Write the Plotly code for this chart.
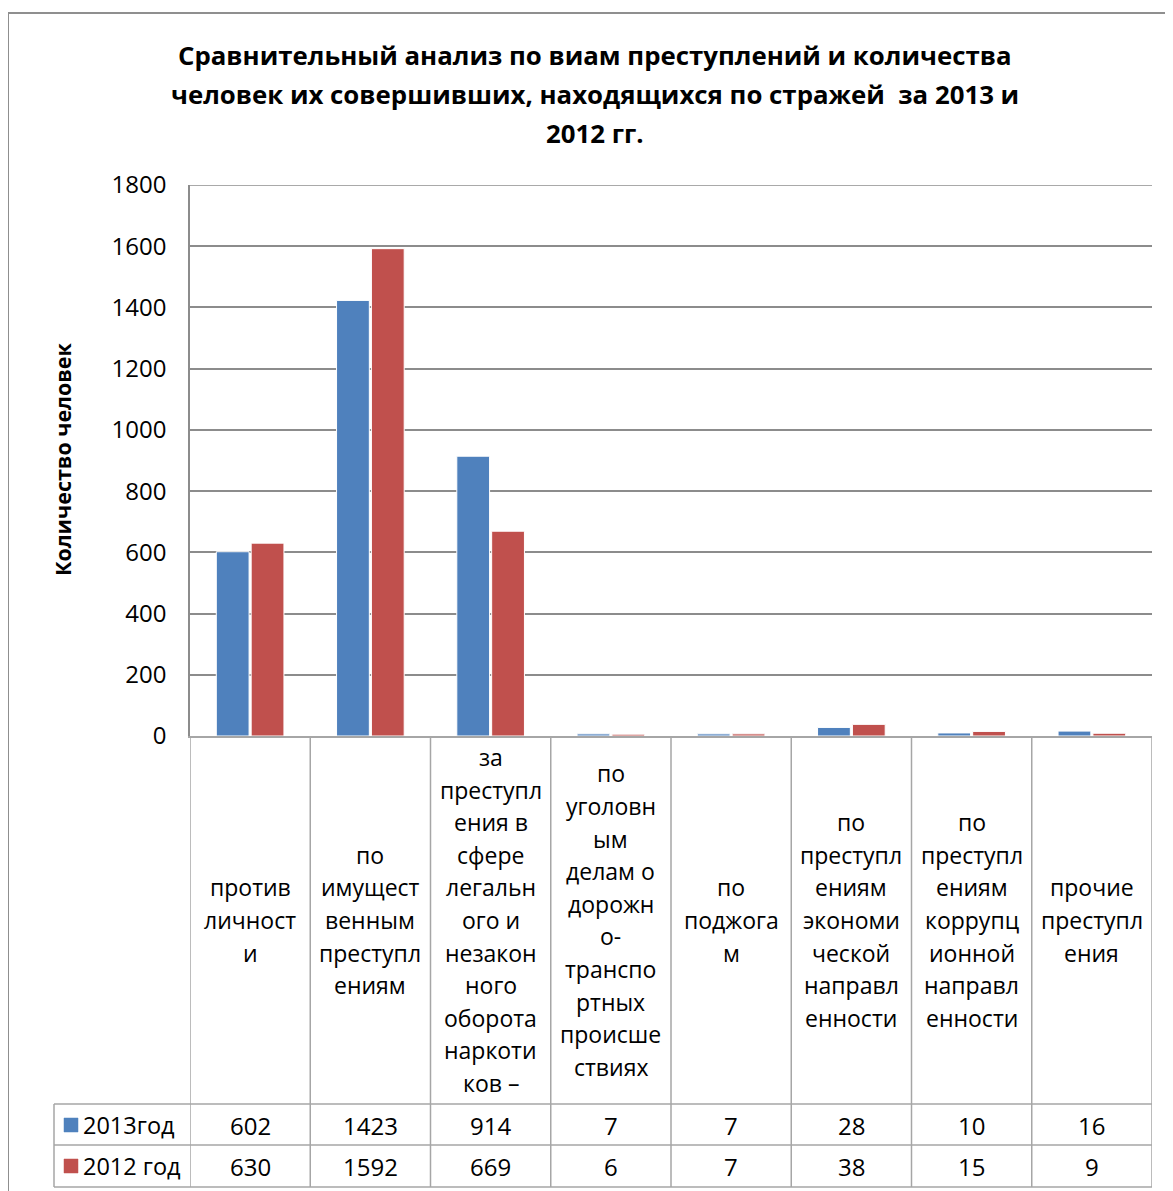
import plotly.graph_objects as go

# ---- data ----
category_lines = [
    ["против", "личност", "и"],
    ["по", "имущест", "венным", "преступл", "ениям"],
    ["за", "преступл", "ения в", "сфере", "легальн", "ого и", "незакон", "ного", "оборота", "наркоти", "ков –"],
    ["по", "уголовн", "ым", "делам о", "дорожн", "о-", "транспо", "ртных", "происше", "ствиях"],
    ["по", "поджога", "м"],
    ["по", "преступл", "ениям", "экономи", "ческой", "направл", "енности"],
    ["по", "преступл", "ениям", "коррупц", "ионной", "направл", "енности"],
    ["прочие", "преступл", "ения"],
]
categories = ["".join(c) for c in category_lines]
series_names = ["2013год", "2012 год"]
values_2013 = [602, 1423, 914, 7, 7, 28, 10, 16]
values_2012 = [630, 1592, 669, 6, 7, 38, 15, 9]
title_lines = [
    "Сравнительный анализ по виам преступлений и количества",
    "человек их совершивших, находящихся по стражей  за 2013 и",
    "2012 гг.",
]
y_title = "Количество человек"
y_max = 1800

# ---- style ----
OFF = 8  # page body margin
W, H = 1173 - OFF, 1191 - OFF
L, R, T, B = 190, 1152, 185, 736
colors = ["#4F81BD", "#C0504D"]
FONT = "Open Sans"
grid_col = "#8C8C8C"
table_col = "#A6A6A6"


def px(x):
    return (x - L) / (R - L)


def py(y):
    return (B - y) / (B - T)


fig = go.Figure()
for name, vals, col in zip(series_names, [values_2013, values_2012], colors):
    fig.add_trace(go.Bar(x=categories, y=vals, name=name,
                         marker=dict(color=col, line=dict(color="white", width=1))))

shapes = []
annotations = []

# outer chart border
shapes.append(dict(type="rect", xref="paper", yref="paper",
                   x0=px(8), x1=px(1195), y0=py(1215), y1=py(13),
                   line=dict(color="#8F8F8F", width=2), layer="below"))

# top gridline at the range edge
shapes.append(dict(type="line", xref="paper", yref="y", x0=0, x1=1, y0=y_max, y1=y_max,
                   line=dict(color=grid_col, width=1.5), layer="below"))

# table vertical lines
n = len(categories)
for i in range(n + 1):
    shapes.append(dict(type="line", xref="x", yref="paper",
                       x0=i - 0.5, x1=i - 0.5, y0=py(B), y1=py(1187),
                       line=dict(color=table_col, width=1.5)))
# table horizontal lines
for yy in [1104, 1145, 1187]:
    shapes.append(dict(type="line", xref="paper", yref="paper",
                       x0=px(54), x1=px(R), y0=py(yy), y1=py(yy),
                       line=dict(color=table_col, width=1.5)))
shapes.append(dict(type="line", xref="paper", yref="paper",
                   x0=px(54), x1=px(54), y0=py(1104), y1=py(1187),
                   line=dict(color=table_col, width=1.5)))

# category labels (line by line)
line_h = 32.6
cy = 920
for i, lines in enumerate(category_lines):
    m = len(lines)
    for k, t in enumerate(lines):
        yy = cy + (k - (m - 1) / 2) * line_h
        annotations.append(dict(x=i, xref="x", y=py(yy), yref="paper",
                                text=t, showarrow=False, xanchor="center", yanchor="middle",
                                font=dict(family=FONT, size=23, color="black")))

# table values and legend keys
row_y = [1125, 1166]
for r, (name, vals, col) in enumerate(zip(series_names, [values_2013, values_2012], colors)):
    for i, v in enumerate(vals):
        annotations.append(dict(x=i, xref="x", y=py(row_y[r]), yref="paper",
                                text=str(v), showarrow=False, xanchor="center", yanchor="middle",
                                font=dict(family=FONT, size=24, color="black")))
    shapes.append(dict(type="rect", xref="paper", yref="paper",
                       x0=px(64), x1=px(78), y0=py(row_y[r] + 7), y1=py(row_y[r] - 7),
                       fillcolor=col, line=dict(color=col, width=0.5)))
    annotations.append(dict(x=px(81), xref="paper", y=py(row_y[r]), yref="paper",
                            text=name, showarrow=False, xanchor="left", yanchor="middle",
                            font=dict(family=FONT, size=23.5, color="black")))

# title lines
for k, t in enumerate(title_lines):
    annotations.append(dict(x=px(595), xref="paper", y=py(55 + 39 * k), yref="paper",
                            text="<b>" + t + "</b>", showarrow=False,
                            xanchor="center", yanchor="middle",
                            font=dict(family=FONT, size=25.8, color="black")))

# y-axis title
annotations.append(dict(x=px(62), xref="paper", y=py(460), yref="paper",
                        text="<b>" + y_title + "</b>", showarrow=False, textangle=-90,
                        xanchor="center", yanchor="middle",
                        font=dict(family=FONT, size=21.5, color="black")))

fig.update_layout(
    width=W, height=H,
    margin=dict(l=L - OFF, r=W - (R - OFF), t=T - OFF, b=H - (B - OFF), pad=0),
    paper_bgcolor="white", plot_bgcolor="white",
    showlegend=False,
    barmode="group", bargap=0.42, bargroupgap=0.06,
    shapes=shapes, annotations=annotations,
    xaxis=dict(type="category", range=[-0.5, n - 0.5], showticklabels=False,
               showline=True, linecolor=table_col, linewidth=1.5, showgrid=False, ticks=""),
    yaxis=dict(range=[0, y_max], dtick=200, showgrid=True, gridcolor=grid_col, gridwidth=1.5,
               showline=True, linecolor=grid_col, linewidth=1.5, ticks="",
               zeroline=False, ticklabelstandoff=17,
               tickfont=dict(family=FONT, size=24, color="black")),
)

fig.write_html("out.html")
